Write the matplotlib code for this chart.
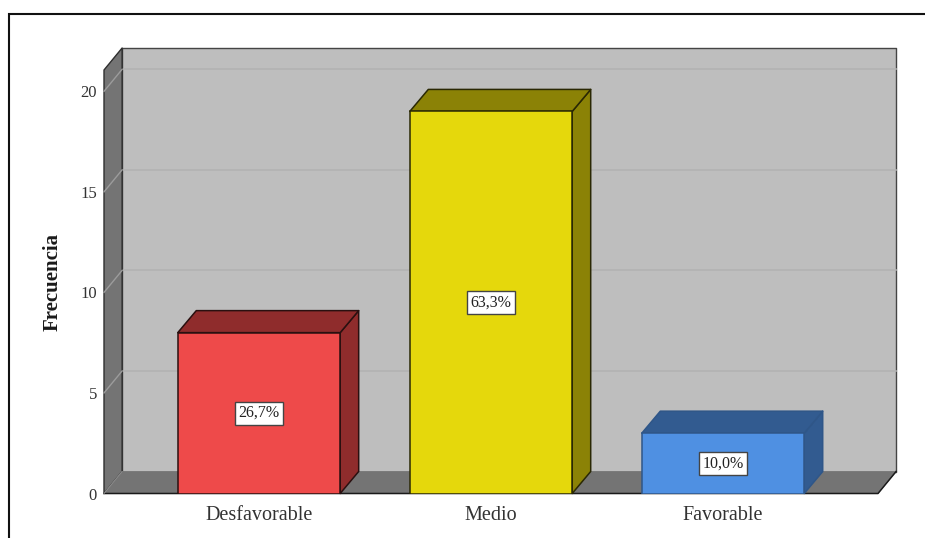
import matplotlib
matplotlib.use("Agg")
import matplotlib.pyplot as plt
from matplotlib.patches import Polygon, Rectangle
from matplotlib.lines import Line2D

categories = ["Desfavorable", "Medio", "Favorable"]
frequencies = [8, 19, 3]
percent_labels = ["26,7%", "63,3%", "10,0%"]
y_ticks = [0, 5, 10, 15, 20]

front_colors = ["#EE4A4A", "#E5D80C", "#4F90E2"]
shade_colors = ["#8F2C2C", "#8B8206", "#325B90"]
edge_colors = ["#2a1010", "#2a2804", "#2f5688"]
WALL = "#BEBEBE"
SIDE = "#747474"
BAR_WIDTH = 0.70
XMIN, XMAX = -0.668, 2.668
YMAX = 21.06
DX, DY = 0.0780, 1.094      # oblique depth of the chart box, in data units
BAR_DX = 0.0797             # oblique depth of the bars

W, H = 925, 538
plt.rcParams["font.family"] = ["Liberation Serif", "DejaVu Serif"]
fig = plt.figure(figsize=(W / 100, H / 100), dpi=100)
fig.add_artist(Rectangle((9.2 / W, -0.05), 1.0, (H - 13.6) / H + 0.05, transform=fig.transFigure,
                         fill=False, edgecolor="#111111", linewidth=1.5))

ax = fig.add_axes([104 / W, (H - 493.5) / H, 774 / W, 423.5 / H])
ax.set_xlim(XMIN, XMAX)
ax.set_ylim(0, YMAX)
for spine in ax.spines.values():
    spine.set_visible(False)
ax.patch.set_visible(False)


def box_face(points, color, edge, lw=1.0, z=1):
    ax.add_patch(Polygon(points, closed=True, facecolor=color, edgecolor=edge,
                         linewidth=lw, zorder=z, clip_on=False, joinstyle="round"))


# Back wall, left wall and floor of the chart box
box_face([(XMIN + DX, DY), (XMAX + DX, DY), (XMAX + DX, YMAX + DY), (XMIN + DX, YMAX + DY)],
         WALL, "#444444", 1.0, 1)
box_face([(XMIN, 0), (XMIN + DX, DY), (XMIN + DX, YMAX + DY), (XMIN, YMAX)],
         SIDE, "#2e2e2e", 1.0, 2)
box_face([(XMIN, 0), (XMAX, 0), (XMAX + DX, DY), (XMIN + DX, DY)], SIDE, SIDE, 0.5, 2)
ax.add_line(Line2D([XMIN, XMAX, XMAX + DX], [0, 0, DY], color="#1a1a1a", lw=1.1,
                   zorder=3, clip_on=False))
ax.add_line(Line2D([XMIN, XMIN + DX], [0, DY], color="#8c8c8c", lw=0.7, zorder=3, clip_on=False))

# Gridlines run along the back wall and fold down the left wall
for tick in y_ticks[1:]:
    ax.add_line(Line2D([XMIN + DX, XMAX + DX], [tick + DY, tick + DY], color="#B3B3B3",
                       lw=1.2, zorder=1.5, clip_on=False))
    ax.add_line(Line2D([XMIN, XMIN + DX], [tick, tick + DY], color="#9C9C9C",
                       lw=1.0, zorder=2.5, clip_on=False))

# Extruded bars: side and top faces first, then the front
bars = ax.bar(range(len(categories)), frequencies, width=BAR_WIDTH, color=front_colors,
              edgecolor=edge_colors, linewidth=1.1, zorder=6)
for i, (bar, value) in enumerate(zip(bars, frequencies)):
    x0, x1 = bar.get_x(), bar.get_x() + bar.get_width()
    box_face([(x1, 0), (x1 + BAR_DX, DY), (x1 + BAR_DX, value + DY), (x1, value)],
             shade_colors[i], edge_colors[i], 1.1, 5)
    box_face([(x0, value), (x1, value), (x1 + BAR_DX, value + DY), (x0 + BAR_DX, value + DY)],
             shade_colors[i], edge_colors[i], 1.1, 5)
    ax.text(i, value / 2, percent_labels[i], ha="center", va="center", fontsize=11.5,
            color="#222222", zorder=8,
            bbox=dict(boxstyle="square,pad=0.22", facecolor="white", edgecolor="#444444",
                      linewidth=1.0))

ax.set_xticks(range(len(categories)), categories, fontsize=14.5, color="#333333")
ax.set_yticks(y_ticks, [str(t) for t in y_ticks], fontsize=12, color="#333333")
ax.tick_params(axis="both", length=0)
ax.tick_params(axis="x", pad=9)
ax.tick_params(axis="y", pad=5)
ax.set_ylabel("Frecuencia", fontsize=15, fontweight="bold", color="#1a1a1a", labelpad=12.5)

fig.savefig("out.png", dpi=100)
